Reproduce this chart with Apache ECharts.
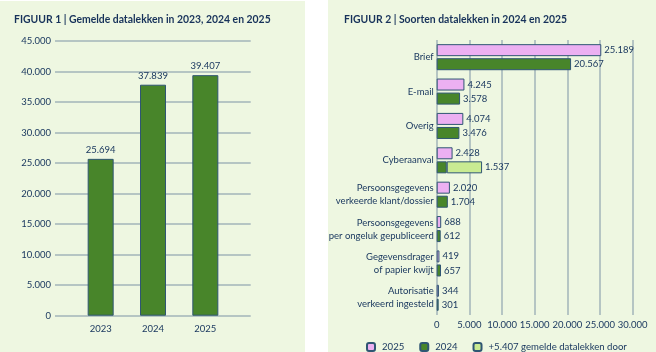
<!DOCTYPE html>
<html>
<head>
<meta charset="utf-8">
<style>html,body{margin:0;padding:0;background:#fff;}#c{width:656px;height:352px;}</style>
<script src="https://cdn.jsdelivr.net/npm/echarts@6/dist/echarts.min.js"></script>
</head>
<body>
<div id="c"></div>
<script>
// Figure 1 data
const years = ['2023', '2024', '2025'];
const totals = [25694, 37839, 39407];
const yTicks1 = [0, 5000, 10000, 15000, 20000, 25000, 30000, 35000, 40000, 45000];

// Figure 2 data
const types = ['Brief', 'E-mail', 'Overig', 'Cyberaanval',
  'Persoonsgegevens\nverkeerde klant/dossier',
  'Persoonsgegevens\nper ongeluk gepubliceerd',
  'Gegevensdrager\nof papier kwijt',
  'Autorisatie\nverkeerd ingesteld'];
const v2025 = [25189, 4245, 4074, 2428, 2020, 688, 419, 344];
const v2024 = [20567, 3578, 3476, 1537, 1704, 612, 657, 301];
const extra2024 = [null, null, null, 5407, null, null, null, null];
const legendNames = ['2025', '2024', '+5.407 gemelde datalekken door'];

const NAVY = '#1c3a60';
const GRID = '#a2b4b8';
const BORDER = '#2f5673';
const FONT = 'Lato';

function fmt(n) { return String(Math.round(n)).replace(/\B(?=(\d{3})+(?!\d))/g, '.'); }

const chart = echarts.init(document.getElementById('c'), null, {renderer: 'canvas'});
const txt = {color: NAVY, fontFamily: FONT, fontSize: 9.5};

chart.setOption({
  animation: false,
  backgroundColor: '#ffffff',
  graphic: [
    {type: 'rect', z: -10, shape: {x: 0, y: 1, width: 305, height: 351}, style: {fill: '#eef7e1'}},
    {type: 'rect', z: -10, shape: {x: 328, y: 0, width: 328, height: 352}, style: {fill: '#eef7e1'}}
  ],
  title: [
    {text: 'FIGUUR 1 | Gemelde datalekken in 2023, 2024 en 2025', left: 14, top: 15, padding: 0,
     textStyle: {color: '#17325a', fontFamily: FONT, fontWeight: 'bold', fontSize: 10.4}},
    {text: 'FIGUUR 2 | Soorten datalekken in 2024 en 2025', left: 344, top: 15, padding: 0,
     textStyle: {color: '#17325a', fontFamily: FONT, fontWeight: 'bold', fontSize: 10.4}}
  ],
  legend: {
    data: legendNames, left: 366, top: 342, padding: 0, itemWidth: 8, itemHeight: 8, itemGap: 15,
    textStyle: {color: NAVY, fontFamily: FONT, fontSize: 9.6, padding: [0, 0, 0, 2]}, selectedMode: false
  },
  grid: [
    {left: 55, top: 41, width: 195.7, height: 274.7},
    {left: 74.5, top: 41, width: 157, height: 274.7},
    {left: 436.7, top: 40, width: 196, height: 275}
  ],
  xAxis: [
    {gridIndex: 0, type: 'value', show: false, min: 0, max: 1},
    {gridIndex: 1, type: 'category', data: years, axisLine: {show: false}, axisTick: {show: false},
     axisLabel: Object.assign({margin: 8}, txt)},
    {gridIndex: 2, type: 'value', min: 0, max: 30000, interval: 5000,
     axisLine: {show: false}, axisTick: {show: false},
     splitLine: {show: true, lineStyle: {color: GRID, width: 1.5}},
     axisLabel: Object.assign({margin: 5, formatter: v => fmt(v)}, txt)}
  ],
  yAxis: [
    {gridIndex: 0, type: 'value', min: yTicks1[0], max: yTicks1[yTicks1.length - 1], interval: 5000,
     axisLine: {show: false}, axisTick: {show: false},
     splitLine: {show: true, lineStyle: {color: GRID, width: 1.5}},
     axisLabel: Object.assign({margin: 4, formatter: v => fmt(v)}, txt)},
    {gridIndex: 1, type: 'value', min: 0, max: 45000, show: false, splitLine: {show: false}},
    {gridIndex: 2, type: 'category', data: types, inverse: true,
     axisLine: {show: false}, axisTick: {show: false},
     axisLabel: Object.assign({margin: 3, lineHeight: 13, align: 'right'}, txt)}
  ],
  series: [
    {type: 'bar', name: 'totals', xAxisIndex: 1, yAxisIndex: 1, data: totals, barWidth: 26,
     itemStyle: {color: '#48852a', borderColor: BORDER, borderWidth: 1},
     label: Object.assign({show: true, position: 'top', distance: 4, formatter: p => fmt(p.value)}, txt)},
    {type: 'bar', name: legendNames[0], xAxisIndex: 2, yAxisIndex: 2, data: v2025, barWidth: 12, barGap: '17%',
     itemStyle: {color: '#ecb0f2', borderColor: BORDER, borderWidth: 1},
     label: Object.assign({show: true, position: 'right', distance: 3, formatter: p => fmt(p.value)}, txt)},
    {type: 'bar', name: legendNames[1], xAxisIndex: 2, yAxisIndex: 2, stack: 's24', barWidth: 12, barGap: '17%',
     data: v2024.map((v, i) => ({value: v, label: {show: extra2024[i] == null}})),
     itemStyle: {color: '#48852a', borderColor: BORDER, borderWidth: 1},
     label: Object.assign({show: true, position: 'right', distance: 3, formatter: p => fmt(p.value)}, txt)},
    {type: 'bar', name: legendNames[2], xAxisIndex: 2, yAxisIndex: 2, stack: 's24', barWidth: 12, barGap: '17%',
     data: extra2024,
     itemStyle: {color: '#c9eb92', borderColor: BORDER, borderWidth: 1},
     label: Object.assign({show: true, position: 'right', distance: 3, formatter: p => fmt(v2024[p.dataIndex])}, txt)}
  ]
});
</script>
</body>
</html>
